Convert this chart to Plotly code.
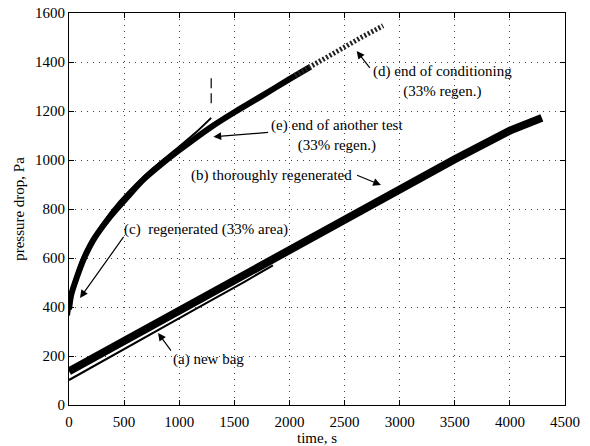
import plotly.graph_objects as go

# Pressure drop across the bag vs. time for each filter condition
t_new_bag = [0, 400, 800, 1200, 1600, 1850]
p_new_bag = [102, 204, 306, 405, 505, 570]

t_thorough = [0, 500, 1000, 1500, 2000, 2500, 3000, 3500, 4000, 4290]
p_thorough = [138, 262, 385, 508, 632, 755, 880, 1003, 1120, 1172]

t_regen = [0, 50, 150, 400, 700, 1000, 1150, 1290]
p_regen = [365, 505, 630, 800, 942, 1055, 1112, 1172]

t_another = [0, 20, 70, 130, 220, 370, 530, 670, 830, 1000, 1280, 1500, 1750, 2000, 2190]
p_another = [390, 450, 520, 592, 673, 767, 849, 918, 980, 1040, 1132, 1195, 1262, 1330, 1380]

t_cond = [2050, 2200, 2350, 2500, 2650, 2850]
p_cond = [1345, 1385, 1422, 1462, 1500, 1548]

t_mark = [1290, 1290]
p_mark = [1232, 1347]

x_ticks = [0, 500, 1000, 1500, 2000, 2500, 3000, 3500, 4000, 4500]
y_ticks = [0, 200, 400, 600, 800, 1000, 1200, 1400, 1600]

FONT = "'Liberation Serif', 'Times New Roman', Times, serif"

fig = go.Figure()
fig.add_trace(go.Scatter(x=t_new_bag, y=p_new_bag, mode="lines",
                         line=dict(color="black", width=2)))
fig.add_trace(go.Scatter(x=t_thorough, y=p_thorough, mode="lines",
                         line=dict(color="black", width=8)))
fig.add_trace(go.Scatter(x=t_another, y=p_another, mode="lines",
                         line=dict(color="black", width=6, shape="spline", smoothing=0.8)))
fig.add_trace(go.Scatter(x=t_regen, y=p_regen, mode="lines",
                         line=dict(color="black", width=2, shape="spline", smoothing=0.8)))
fig.add_trace(go.Scatter(x=t_cond, y=p_cond, mode="lines",
                         line=dict(color="#222", width=5, dash="2px,2px")))
fig.add_trace(go.Scatter(x=t_mark, y=p_mark, mode="lines",
                         line=dict(color="black", width=1.2, dash="10px,5px")))

def note(text, x, y, ax, ay, tx=None, ty=None):
    # text placed at (tx, ty), arrow from (ax, ay) to (x, y)
    fig.add_annotation(x=x, y=y, ax=ax, ay=ay, xref="x", yref="y",
                       axref="x", ayref="y", text="", showarrow=True,
                       arrowhead=2, arrowsize=1.3, arrowwidth=1.2,
                       arrowcolor="black")
    if text:
        fig.add_annotation(x=tx, y=ty, xref="x", yref="y", text=text,
                           showarrow=False, font=dict(family=FONT, size=15,
                                                      color="black"))

note("(d) end of conditioning<br>(33% regen.)", 2610, 1445, 2740, 1370, 3390, 1320)
note("(e) end of another test<br>(33% regen.)", 1310, 1095, 1820, 1113, 2430, 1100)
note("(b) thoroughly regenerated", 2830, 898, 2600, 940, 1840, 938)
note("(c)  regenerated (33% area)", 100, 437, 505, 692, 1240, 718)
note("(a) new bag", 808, 294, 935, 216, 1270, 186)

axis_common = dict(showline=True, linecolor="black", linewidth=1, mirror="ticks",
                   ticks="inside", ticklen=5, tickcolor="black", automargin=False,
                   showgrid=True, gridcolor="#444", gridwidth=1, griddash="1px,5px",
                   zeroline=False, tickfont=dict(family=FONT, size=15, color="black"))

fig.update_xaxes(range=[0, 4500], tickvals=x_ticks, ticktext=[str(v) for v in x_ticks],
                 ticklabelstandoff=3,
                 title=dict(text="time, s", font=dict(family=FONT, size=15, color="black"),
                            standoff=2), **axis_common)
fig.update_yaxes(range=[0, 1600], tickvals=y_ticks, ticktext=[str(v) for v in y_ticks],
                 title=dict(text="pressure drop, Pa", font=dict(family=FONT, size=15, color="black"),
                            standoff=6), **axis_common)

fig.update_layout(width=590, height=446, showlegend=False,
                  margin=dict(l=69, r=25, t=13, b=41),
                  plot_bgcolor="white", paper_bgcolor="white")

fig.write_html("out.html")
